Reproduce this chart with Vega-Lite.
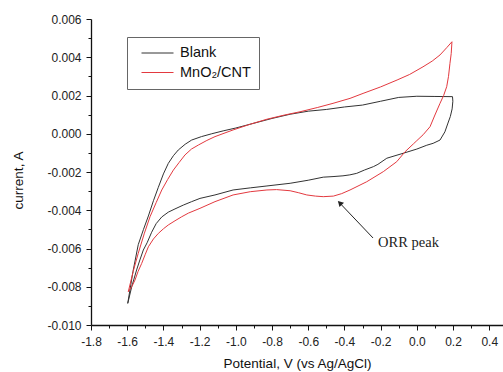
{
  "$schema": "https://vega.github.io/schema/vega-lite/v6.json",
  "width": 412,
  "height": 306,
  "autosize": {"type": "none"},
  "padding": {"left": 91, "top": 19, "right": 0, "bottom": 47},
  "background": "white",
  "config": {
    "view": {"stroke": null},
    "font": "Liberation Sans"
  },
  "resolve": {"axis": {"x": "independent", "y": "independent"}},
  "datasets": {
    "cv": [
      {"series": "Blank", "i": 1, "x": -1.597, "y": -0.00887},
      {"series": "Blank", "i": 2, "x": -1.568, "y": -0.0072},
      {"series": "Blank", "i": 3, "x": -1.539, "y": -0.0058},
      {"series": "Blank", "i": 4, "x": -1.51, "y": -0.005},
      {"series": "Blank", "i": 5, "x": -1.483, "y": -0.0043},
      {"series": "Blank", "i": 6, "x": -1.455, "y": -0.0035},
      {"series": "Blank", "i": 7, "x": -1.428, "y": -0.0028},
      {"series": "Blank", "i": 8, "x": -1.4, "y": -0.0021},
      {"series": "Blank", "i": 9, "x": -1.373, "y": -0.00155},
      {"series": "Blank", "i": 10, "x": -1.345, "y": -0.00115},
      {"series": "Blank", "i": 11, "x": -1.318, "y": -0.00085},
      {"series": "Blank", "i": 12, "x": -1.28, "y": -0.00055},
      {"series": "Blank", "i": 13, "x": -1.244, "y": -0.00033},
      {"series": "Blank", "i": 14, "x": -1.19, "y": -0.00015},
      {"series": "Blank", "i": 15, "x": -1.133, "y": 0.0},
      {"series": "Blank", "i": 16, "x": -1.07, "y": 0.00015},
      {"series": "Blank", "i": 17, "x": -1.0, "y": 0.0003},
      {"series": "Blank", "i": 18, "x": -0.9, "y": 0.00055},
      {"series": "Blank", "i": 19, "x": -0.8, "y": 0.0008},
      {"series": "Blank", "i": 20, "x": -0.7, "y": 0.00102},
      {"series": "Blank", "i": 21, "x": -0.6, "y": 0.00118},
      {"series": "Blank", "i": 22, "x": -0.5, "y": 0.00127},
      {"series": "Blank", "i": 23, "x": -0.4, "y": 0.0014},
      {"series": "Blank", "i": 24, "x": -0.3, "y": 0.0015},
      {"series": "Blank", "i": 25, "x": -0.2, "y": 0.0017},
      {"series": "Blank", "i": 26, "x": -0.1, "y": 0.0019},
      {"series": "Blank", "i": 27, "x": 0.0, "y": 0.00196},
      {"series": "Blank", "i": 28, "x": 0.1, "y": 0.00195},
      {"series": "Blank", "i": 29, "x": 0.197, "y": 0.00194},
      {"series": "Blank", "i": 30, "x": 0.199, "y": 0.0017},
      {"series": "Blank", "i": 31, "x": 0.195, "y": 0.0013},
      {"series": "Blank", "i": 32, "x": 0.185, "y": 0.0009},
      {"series": "Blank", "i": 33, "x": 0.172, "y": 0.00056},
      {"series": "Blank", "i": 34, "x": 0.155, "y": 0.0001},
      {"series": "Blank", "i": 35, "x": 0.128, "y": -0.00033},
      {"series": "Blank", "i": 36, "x": 0.09, "y": -0.0005},
      {"series": "Blank", "i": 37, "x": 0.055, "y": -0.0006},
      {"series": "Blank", "i": 38, "x": 0.0, "y": -0.0008},
      {"series": "Blank", "i": 39, "x": -0.075, "y": -0.00102},
      {"series": "Blank", "i": 40, "x": -0.166, "y": -0.00128},
      {"series": "Blank", "i": 41, "x": -0.215, "y": -0.0016},
      {"series": "Blank", "i": 42, "x": -0.24, "y": -0.00172},
      {"series": "Blank", "i": 43, "x": -0.29, "y": -0.0019},
      {"series": "Blank", "i": 44, "x": -0.332, "y": -0.00207},
      {"series": "Blank", "i": 45, "x": -0.37, "y": -0.00215},
      {"series": "Blank", "i": 46, "x": -0.408, "y": -0.0022},
      {"series": "Blank", "i": 47, "x": -0.463, "y": -0.00224},
      {"series": "Blank", "i": 48, "x": -0.517, "y": -0.00227},
      {"series": "Blank", "i": 49, "x": -0.6, "y": -0.00243},
      {"series": "Blank", "i": 50, "x": -0.7, "y": -0.00259},
      {"series": "Blank", "i": 51, "x": -0.828, "y": -0.00273},
      {"series": "Blank", "i": 52, "x": -0.92, "y": -0.00283},
      {"series": "Blank", "i": 53, "x": -1.015, "y": -0.00294},
      {"series": "Blank", "i": 54, "x": -1.115, "y": -0.0032},
      {"series": "Blank", "i": 55, "x": -1.198, "y": -0.00338},
      {"series": "Blank", "i": 56, "x": -1.244, "y": -0.00355},
      {"series": "Blank", "i": 57, "x": -1.29, "y": -0.00373},
      {"series": "Blank", "i": 58, "x": -1.336, "y": -0.00393},
      {"series": "Blank", "i": 59, "x": -1.373, "y": -0.0041},
      {"series": "Blank", "i": 60, "x": -1.409, "y": -0.00435},
      {"series": "Blank", "i": 61, "x": -1.44, "y": -0.0047},
      {"series": "Blank", "i": 62, "x": -1.465, "y": -0.00515},
      {"series": "Blank", "i": 63, "x": -1.49, "y": -0.0057},
      {"series": "Blank", "i": 64, "x": -1.511, "y": -0.00608},
      {"series": "Blank", "i": 65, "x": -1.53, "y": -0.0066},
      {"series": "Blank", "i": 66, "x": -1.548, "y": -0.00712},
      {"series": "Blank", "i": 67, "x": -1.575, "y": -0.008},
      {"series": "Blank", "i": 68, "x": -1.597, "y": -0.00887},
      {"series": "MnO₂/CNT", "i": 1, "x": -1.594, "y": -0.00826},
      {"series": "MnO₂/CNT", "i": 2, "x": -1.567, "y": -0.0072},
      {"series": "MnO₂/CNT", "i": 3, "x": -1.539, "y": -0.00625},
      {"series": "MnO₂/CNT", "i": 4, "x": -1.505, "y": -0.0052},
      {"series": "MnO₂/CNT", "i": 5, "x": -1.474, "y": -0.00434},
      {"series": "MnO₂/CNT", "i": 6, "x": -1.44, "y": -0.0036},
      {"series": "MnO₂/CNT", "i": 7, "x": -1.409, "y": -0.00294},
      {"series": "MnO₂/CNT", "i": 8, "x": -1.377, "y": -0.0024},
      {"series": "MnO₂/CNT", "i": 9, "x": -1.345, "y": -0.0019},
      {"series": "MnO₂/CNT", "i": 10, "x": -1.313, "y": -0.0015},
      {"series": "MnO₂/CNT", "i": 11, "x": -1.281, "y": -0.00111},
      {"series": "MnO₂/CNT", "i": 12, "x": -1.245, "y": -0.0008},
      {"series": "MnO₂/CNT", "i": 13, "x": -1.207, "y": -0.00059},
      {"series": "MnO₂/CNT", "i": 14, "x": -1.16, "y": -0.00035},
      {"series": "MnO₂/CNT", "i": 15, "x": -1.115, "y": -0.00015},
      {"series": "MnO₂/CNT", "i": 16, "x": -1.015, "y": 0.0002},
      {"series": "MnO₂/CNT", "i": 17, "x": -0.92, "y": 0.0005},
      {"series": "MnO₂/CNT", "i": 18, "x": -0.828, "y": 0.00076},
      {"series": "MnO₂/CNT", "i": 19, "x": -0.735, "y": 0.00097},
      {"series": "MnO₂/CNT", "i": 20, "x": -0.645, "y": 0.00115},
      {"series": "MnO₂/CNT", "i": 21, "x": -0.55, "y": 0.00137},
      {"series": "MnO₂/CNT", "i": 22, "x": -0.463, "y": 0.00159},
      {"series": "MnO₂/CNT", "i": 23, "x": -0.369, "y": 0.00185},
      {"series": "MnO₂/CNT", "i": 24, "x": -0.297, "y": 0.00211},
      {"series": "MnO₂/CNT", "i": 25, "x": -0.2, "y": 0.00245},
      {"series": "MnO₂/CNT", "i": 26, "x": -0.109, "y": 0.00281},
      {"series": "MnO₂/CNT", "i": 27, "x": -0.04, "y": 0.0031},
      {"series": "MnO₂/CNT", "i": 28, "x": 0.034, "y": 0.0035},
      {"series": "MnO₂/CNT", "i": 29, "x": 0.085, "y": 0.0038},
      {"series": "MnO₂/CNT", "i": 30, "x": 0.128, "y": 0.00412},
      {"series": "MnO₂/CNT", "i": 31, "x": 0.165, "y": 0.0045},
      {"series": "MnO₂/CNT", "i": 32, "x": 0.194, "y": 0.00481},
      {"series": "MnO₂/CNT", "i": 33, "x": 0.19, "y": 0.0042},
      {"series": "MnO₂/CNT", "i": 34, "x": 0.183, "y": 0.00368},
      {"series": "MnO₂/CNT", "i": 35, "x": 0.175, "y": 0.003},
      {"series": "MnO₂/CNT", "i": 36, "x": 0.165, "y": 0.00246},
      {"series": "MnO₂/CNT", "i": 37, "x": 0.148, "y": 0.002},
      {"series": "MnO₂/CNT", "i": 38, "x": 0.128, "y": 0.00159},
      {"series": "MnO₂/CNT", "i": 39, "x": 0.1, "y": 0.00098},
      {"series": "MnO₂/CNT", "i": 40, "x": 0.073, "y": 0.00037},
      {"series": "MnO₂/CNT", "i": 41, "x": 0.035, "y": -0.00005},
      {"series": "MnO₂/CNT", "i": 42, "x": 0.0, "y": -0.00036},
      {"series": "MnO₂/CNT", "i": 43, "x": -0.019, "y": -0.00053},
      {"series": "MnO₂/CNT", "i": 44, "x": -0.065, "y": -0.00094},
      {"series": "MnO₂/CNT", "i": 45, "x": -0.111, "y": -0.00146},
      {"series": "MnO₂/CNT", "i": 46, "x": -0.185, "y": -0.00198},
      {"series": "MnO₂/CNT", "i": 47, "x": -0.277, "y": -0.00251},
      {"series": "MnO₂/CNT", "i": 48, "x": -0.369, "y": -0.00294},
      {"series": "MnO₂/CNT", "i": 49, "x": -0.415, "y": -0.00313},
      {"series": "MnO₂/CNT", "i": 50, "x": -0.461, "y": -0.00326},
      {"series": "MnO₂/CNT", "i": 51, "x": -0.517, "y": -0.00329},
      {"series": "MnO₂/CNT", "i": 52, "x": -0.56, "y": -0.00326},
      {"series": "MnO₂/CNT", "i": 53, "x": -0.608, "y": -0.0032},
      {"series": "MnO₂/CNT", "i": 54, "x": -0.655, "y": -0.00308},
      {"series": "MnO₂/CNT", "i": 55, "x": -0.7, "y": -0.00298},
      {"series": "MnO₂/CNT", "i": 56, "x": -0.775, "y": -0.00292},
      {"series": "MnO₂/CNT", "i": 57, "x": -0.828, "y": -0.00294},
      {"series": "MnO₂/CNT", "i": 58, "x": -0.92, "y": -0.00303},
      {"series": "MnO₂/CNT", "i": 59, "x": -1.015, "y": -0.0032},
      {"series": "MnO₂/CNT", "i": 60, "x": -1.115, "y": -0.00355},
      {"series": "MnO₂/CNT", "i": 61, "x": -1.198, "y": -0.0039},
      {"series": "MnO₂/CNT", "i": 62, "x": -1.262, "y": -0.00415},
      {"series": "MnO₂/CNT", "i": 63, "x": -1.299, "y": -0.00434},
      {"series": "MnO₂/CNT", "i": 64, "x": -1.336, "y": -0.00455},
      {"series": "MnO₂/CNT", "i": 65, "x": -1.373, "y": -0.00477},
      {"series": "MnO₂/CNT", "i": 66, "x": -1.4, "y": -0.00497},
      {"series": "MnO₂/CNT", "i": 67, "x": -1.428, "y": -0.00521},
      {"series": "MnO₂/CNT", "i": 68, "x": -1.455, "y": -0.0055},
      {"series": "MnO₂/CNT", "i": 69, "x": -1.483, "y": -0.00591},
      {"series": "MnO₂/CNT", "i": 70, "x": -1.5, "y": -0.0063},
      {"series": "MnO₂/CNT", "i": 71, "x": -1.52, "y": -0.00678},
      {"series": "MnO₂/CNT", "i": 72, "x": -1.54, "y": -0.0072},
      {"series": "MnO₂/CNT", "i": 73, "x": -1.557, "y": -0.00765},
      {"series": "MnO₂/CNT", "i": 74, "x": -1.575, "y": -0.008},
      {"series": "MnO₂/CNT", "i": 75, "x": -1.594, "y": -0.00826}
    ],
    "arrow": [
      {"x": -0.242, "y": -0.00545, "x2": -0.432, "y2": -0.00356}
    ],
    "head": [
      {"x": -0.4254, "y": -0.003616}
    ],
    "label": [
      {"x": -0.214, "y": -0.00571, "text": "ORR peak"}
    ]
  },
  "layer": [
    {
      "data": {"name": "cv"},
      "mark": {"type": "line", "strokeWidth": 1, "clip": false},
      "encoding": {
        "x": {
          "field": "x",
          "type": "quantitative",
          "scale": {"domain": [-1.8, 0.476], "nice": false, "zero": false},
          "axis": {
            "orient": "bottom",
            "title": "Potential, V (vs Ag/AgCl)",
            "titleFont": "Liberation Sans",
            "titleFontSize": 13.5,
            "titleFontWeight": "normal",
            "titleColor": "#111",
            "titlePadding": 9,
            "values": [-1.8, -1.6, -1.4, -1.2, -1.0, -0.8, -0.6, -0.4, -0.2, 0.0, 0.2, 0.4],
            "labelExpr": "replace(format(datum.value,'.1f'),'\u2212','-')",
            "labelFont": "Liberation Sans",
            "labelFontSize": 12,
            "labelColor": "#222",
            "labelPadding": 6,
            "labelFlush": false,
            "labelOverlap": false,
            "labelBound": false,
            "grid": false,
            "domainColor": "#111",
            "domainWidth": 1.3,
            "tickColor": "#111",
            "tickWidth": 1,
            "tickSize": 5
          }
        },
        "y": {
          "field": "y",
          "type": "quantitative",
          "scale": {"domain": [-0.01, 0.006], "nice": false, "zero": false},
          "axis": {
            "orient": "left",
            "title": "current, A",
            "titleFont": "Liberation Sans",
            "titleFontSize": 13.5,
            "titleFontWeight": "normal",
            "titleColor": "#111",
            "titleX": -66,
            "titleY": 161,
            "values": [-0.01, -0.008, -0.006, -0.004, -0.002, 0.0, 0.002, 0.004, 0.006],
            "labelExpr": "replace(format(datum.value,'.3f'),'\u2212','-')",
            "labelFont": "Liberation Sans",
            "labelFontSize": 12,
            "labelColor": "#222",
            "labelPadding": 5,
            "labelFlush": false,
            "labelOverlap": false,
            "labelBound": false,
            "grid": false,
            "domainColor": "#111",
            "domainWidth": 1.3,
            "tickColor": "#111",
            "tickWidth": 1,
            "tickSize": 5
          }
        },
        "color": {
          "field": "series",
          "type": "nominal",
          "scale": {"domain": ["Blank", "MnO₂/CNT"], "range": ["#333333", "#e3393f"]},
          "legend": {
            "title": null,
            "orient": "none",
            "legendX": 36,
            "legendY": 18,
            "padding": 8,
            "symbolOffset": 6,
            "strokeColor": "#666",
            "fillColor": "white",
            "symbolType": "stroke",
            "symbolSize": 1024,
            "symbolStrokeWidth": 1,
            "clipHeight": 16,
            "labelFont": "Liberation Sans",
            "labelFontSize": 14.5,
            "labelColor": "#111",
            "labelOffset": 6,
            "rowPadding": 3.5
          }
        },
        "order": {"field": "i", "type": "quantitative"}
      }
    },
    {
      "data": {"name": "arrow"},
      "mark": {"type": "rule", "color": "#222", "strokeWidth": 1},
      "encoding": {
        "x": {"field": "x", "type": "quantitative", "axis": null},
        "y": {"field": "y", "type": "quantitative", "axis": null},
        "x2": {"field": "x2"},
        "y2": {"field": "y2"}
      }
    },
    {
      "data": {"name": "head"},
      "mark": {"type": "point", "shape": "triangle-up", "filled": true, "color": "#222", "size": 40, "angle": 316.5, "opacity": 1},
      "encoding": {
        "x": {"field": "x", "type": "quantitative", "axis": null},
        "y": {"field": "y", "type": "quantitative", "axis": null}
      }
    },
    {
      "data": {"name": "label"},
      "mark": {"type": "text", "font": "Liberation Serif", "fontSize": 14.5, "color": "#222", "align": "left", "baseline": "middle"},
      "encoding": {
        "x": {
          "field": "x",
          "type": "quantitative",
          "axis": {
            "orient": "bottom",
            "title": null,
            "values": [-1.7, -1.5, -1.3, -1.1, -0.9, -0.7, -0.5, -0.3, -0.1, 0.1, 0.3],
            "labels": false,
            "domain": false,
            "grid": false,
            "ticks": true,
            "tickColor": "#111",
            "tickWidth": 1,
            "tickSize": 3
          }
        },
        "y": {
          "field": "y",
          "type": "quantitative",
          "axis": {
            "orient": "left",
            "title": null,
            "values": [-0.009, -0.007, -0.005, -0.003, -0.001, 0.001, 0.003, 0.005],
            "labels": false,
            "domain": false,
            "grid": false,
            "ticks": true,
            "tickColor": "#111",
            "tickWidth": 1,
            "tickSize": 3
          }
        },
        "text": {"field": "text"}
      }
    }
  ]
}
